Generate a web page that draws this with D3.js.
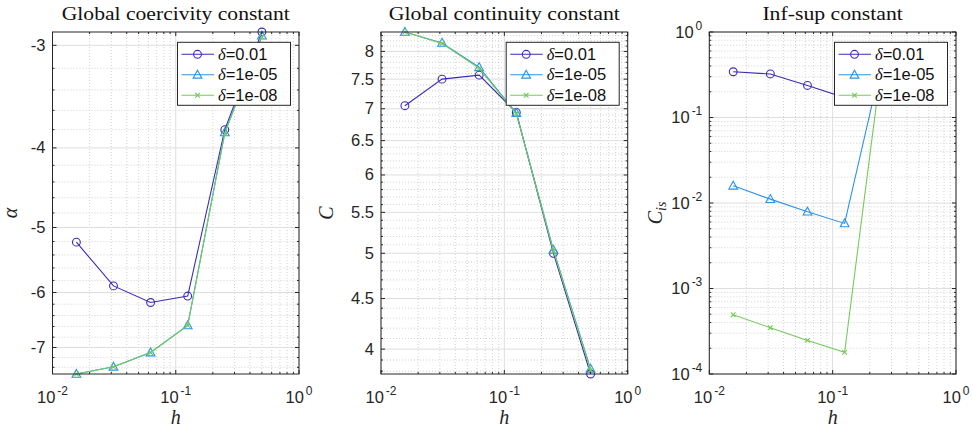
<!DOCTYPE html>
<html><head><meta charset="utf-8">
<script src="https://cdn.jsdelivr.net/npm/d3@7"></script>
<style>
html,body{margin:0;padding:0;background:#fff;}
svg text{font-family:"Liberation Sans",Arial,sans-serif;}
</style></head>
<body>
<svg id="chart" width="973" height="431"></svg>
<script>
// ---------- data ----------
const h = [0.015625, 0.03125, 0.0625, 0.125, 0.25, 0.5];
const seriesNames = ["0.01", "1e-05", "1e-08"];
const alphaD1 = [-5.21, -5.89, -6.17, -6.06, -3.80, -2.89];
const alphaD2 = [-7.54, -7.39, -7.10, -6.58, -3.83, -2.92];
const alphaD3 = [-7.54, -7.39, -7.10, -6.58, -3.84, -2.93];
const contD1 = [7.05, 7.50, 7.57, 6.94, 5.00, 3.775];
const contD2 = [8.37, 8.16, 7.71, 6.93, 5.04, 3.82];
const contD3 = [8.37, 8.15, 7.69, 6.92, 5.03, 3.81];
const cisD1 = [0.343, 0.323, 0.237, 0.171, 0.44, 0.48];
const cisD2 = [0.0159, 0.0111, 0.0079, 0.00577, 0.44, 0.48];
const cisD3 = [0.000494, 0.000348, 0.000247, 0.000179, 0.44, 0.48];
const xTicks = [0.01, 0.1, 1];
const xTickExp = ["-2", "-1", "0"];
const alphaTicks = [-3, -4, -5, -6, -7];
const contTicks = [4, 4.5, 5, 5.5, 6, 6.5, 7, 7.5, 8];
const cisTicks = [1e-4, 1e-3, 1e-2, 1e-1, 1];
const cisTickExp = ["-4", "-3", "-2", "-1", "0"];
const titles = ["Global coercivity constant", "Global continuity constant", "Inf-sup constant"];

// ---------- style ----------
const colors = ["#3b2db3", "#2b93e6", "#74cb5a"];
const markers = ["circle", "triangle", "x"];
const axisColor = "#262626";
const serif = "'Liberation Serif','Times New Roman',serif";
const topY = 32, bottomY = 374;
const panels = [
  {left: 52.5, right: 299, title: titles[0], titleW: 228, series: [alphaD1, alphaD2, alphaD3], ticks: alphaTicks, minorStep: 0.2, ylabel: "alpha"},
  {left: 381, right: 627.7, title: titles[1], titleW: 231, series: [contD1, contD2, contD3], ticks: contTicks, minorStep: 0.1, ylabel: "C"},
  {left: 709.3, right: 956, title: titles[2], titleW: 140.5, series: [cisD1, cisD2, cisD3], ticks: cisTicks, minorStep: null, ylabel: "Cis", domain: [1e-4, 1]}
];

const svg = d3.select("#chart");

function markerPath(type) {
  if (type === "triangle") {
    const s = 4.6;
    return `M0,${-s}L${s*0.95},${s*0.72}L${-s*0.95},${s*0.72}Z`;
  }
  if (type === "x") {
    const s = 2.3;
    return `M${-s},${-s}L${s},${s}M${-s},${s}L${s},${-s}`;
  }
  return null;
}
function drawMarker(g, type, color) {
  if (type === "circle") {
    g.append("circle").attr("r", 3.9).attr("fill", "none").attr("stroke", color).attr("stroke-width", 1.1);
  } else {
    g.append("path").attr("d", markerPath(type)).attr("fill", "none").attr("stroke", color).attr("stroke-width", 1.1);
  }
}

panels.forEach((p, pi) => {
  const g = svg.append("g");
  const x = d3.scaleLog().domain([0.01, 1]).range([p.left, p.right]);
  const all = p.series.flat();
  let dom = p.domain;
  if (!dom) {
    const ext = d3.extent(all);
    dom = ext[0] < 0 ? [ext[1], ext[0]] : [ext[0], ext[1]];
  }
  const y = d3.scaleLog().domain(dom).range(dom[0] < 0 ? [topY, bottomY] : [bottomY, topY]);

  // minor ticks
  const xMinor = [];
  [0.01, 0.1].forEach(d => { for (let k = 2; k <= 9; k++) xMinor.push(d * k); });
  let yMinor = [];
  if (p.minorStep) {
    const lo = Math.min(Math.abs(dom[0]), Math.abs(dom[1])), hi = Math.max(Math.abs(dom[0]), Math.abs(dom[1]));
    const sign = dom[0] < 0 ? -1 : 1;
    const major = p.ticks.map(Math.abs);
    for (let v = Math.ceil(lo / p.minorStep - 1e-9) * p.minorStep; v <= hi + 1e-9; v += p.minorStep) {
      const vv = Math.round(v * 100) / 100;
      if (!major.some(m => Math.abs(m - vv) < 1e-6)) yMinor.push(sign * vv);
    }
  } else {
    [1e-4, 1e-3, 1e-2, 1e-1].forEach(d => { for (let k = 2; k <= 9; k++) yMinor.push(d * k); });
  }

  // grid minor
  const grid = g.append("g");
  grid.selectAll(".mxg").data(xMinor).join("line")
    .attr("x1", d => x(d)).attr("x2", d => x(d)).attr("y1", topY).attr("y2", bottomY)
    .attr("stroke", "#c8c8c8").attr("stroke-width", 0.8).attr("stroke-dasharray", "1,2");
  grid.selectAll(".myg").data(yMinor).join("line")
    .attr("y1", d => y(d)).attr("y2", d => y(d)).attr("x1", p.left).attr("x2", p.right)
    .attr("stroke", "#c8c8c8").attr("stroke-width", 0.8).attr("stroke-dasharray", "1,2");
  // grid major
  grid.selectAll(".Mxg").data(xTicks).join("line")
    .attr("x1", d => x(d)).attr("x2", d => x(d)).attr("y1", topY).attr("y2", bottomY)
    .attr("stroke", "#dedede").attr("stroke-width", 1);
  grid.selectAll(".Myg").data(p.ticks).join("line")
    .attr("y1", d => y(d)).attr("y2", d => y(d)).attr("x1", p.left).attr("x2", p.right)
    .attr("stroke", "#dedede").attr("stroke-width", 1);

  // series
  const clipId = "clip" + pi;
  svg.append("clipPath").attr("id", clipId).append("rect")
    .attr("x", p.left - 6).attr("y", topY - 6).attr("width", p.right - p.left + 12).attr("height", bottomY - topY + 12);
  const sg = g.append("g").attr("clip-path", `url(#${clipId})`);
  const line = d3.line().x((d, i) => x(h[i])).y(d => y(d));
  p.series.forEach((s, si) => {
    sg.append("path").datum(s).attr("d", line).attr("fill", "none")
      .attr("stroke", colors[si]).attr("stroke-width", 1.1);
    s.forEach((v, i) => {
      const mg = sg.append("g").attr("transform", `translate(${x(h[i])},${y(v)})`);
      drawMarker(mg, markers[si], colors[si]);
    });
  });

  // axes box
  g.append("rect").attr("x", p.left).attr("y", topY).attr("width", p.right - p.left).attr("height", bottomY - topY)
    .attr("fill", "none").attr("stroke", axisColor).attr("stroke-width", 1);

  // ticks
  const tk = g.append("g").attr("stroke", axisColor).attr("stroke-width", 1);
  const majL = 4, minL = 2;
  xTicks.forEach(d => {
    tk.append("line").attr("x1", x(d)).attr("x2", x(d)).attr("y1", bottomY).attr("y2", bottomY - majL);
    tk.append("line").attr("x1", x(d)).attr("x2", x(d)).attr("y1", topY).attr("y2", topY + majL);
  });
  xMinor.forEach(d => {
    tk.append("line").attr("x1", x(d)).attr("x2", x(d)).attr("y1", bottomY).attr("y2", bottomY - minL);
    tk.append("line").attr("x1", x(d)).attr("x2", x(d)).attr("y1", topY).attr("y2", topY + minL);
  });
  p.ticks.forEach(d => {
    tk.append("line").attr("y1", y(d)).attr("y2", y(d)).attr("x1", p.left).attr("x2", p.left + majL);
    tk.append("line").attr("y1", y(d)).attr("y2", y(d)).attr("x1", p.right).attr("x2", p.right - majL);
  });
  yMinor.forEach(d => {
    tk.append("line").attr("y1", y(d)).attr("y2", y(d)).attr("x1", p.left).attr("x2", p.left + minL);
    tk.append("line").attr("y1", y(d)).attr("y2", y(d)).attr("x1", p.right).attr("x2", p.right - minL);
  });

  // x tick labels
  xTicks.forEach((d, i) => {
    const t = g.append("text").attr("x", x(d)).attr("y", 403).attr("text-anchor", "middle")
      .attr("font-size", 16.5).attr("fill", axisColor);
    t.append("tspan").text("10");
    t.append("tspan").attr("dy", -8).attr("dx", 2).attr("font-size", 12).text(xTickExp[i]);
  });
  // y tick labels
  p.ticks.forEach((d, i) => {
    const t = g.append("text").attr("x", p.left - 7).attr("y", y(d) + 5.5).attr("text-anchor", "end")
      .attr("font-size", 16.5).attr("fill", axisColor);
    if (p.minorStep) {
      t.text(String(d));
    } else {
      t.append("tspan").text("10");
      t.append("tspan").attr("dy", -8).attr("dx", 2).attr("font-size", 12).text(cisTickExp[i]);
    }
  });

  // title
  g.append("text").attr("x", (p.left + p.right) / 2).attr("y", 20).attr("text-anchor", "middle")
    .style("font-family", serif).attr("font-size", 19).attr("fill", "#111")
    .attr("textLength", p.titleW).attr("lengthAdjust", "spacingAndGlyphs").text(p.title);
  // x label
  g.append("text").attr("x", (p.left + p.right) / 2).attr("y", 424).attr("text-anchor", "middle")
    .style("font-family", serif).attr("font-style", "italic").attr("font-size", 20).attr("fill", "#262626").text("h");
  // y label
  const ylx = pi === 0 ? 17 : (pi === 1 ? 333 : 662);
  const yl = g.append("text").attr("transform", `translate(${ylx},${(topY + bottomY) / 2 + 10}) rotate(-90)`)
    .attr("text-anchor", "middle").style("font-family", serif).attr("font-style", "italic")
    .attr("font-size", 20).attr("fill", "#262626");
  if (p.ylabel === "alpha") yl.text("α");
  else if (p.ylabel === "C") yl.text("C");
  else { yl.append("tspan").text("C"); yl.append("tspan").attr("dy", 4).attr("font-size", 14).text("is"); }

  // legend
  const lw = 113, lh = 63;
  const lx = p.right - 121.5, ly = 42.3;
  const lg = g.append("g").attr("transform", `translate(${lx},${ly})`);
  lg.append("rect").attr("width", lw).attr("height", lh).attr("fill", "#fff").attr("stroke", axisColor).attr("stroke-width", 1);
  seriesNames.forEach((nm, si) => {
    const cy = 12 + si * 20.5;
    lg.append("line").attr("x1", 4).attr("x2", 36.5).attr("y1", cy).attr("y2", cy).attr("stroke", colors[si]).attr("stroke-width", 1.1);
    const mg = lg.append("g").attr("transform", `translate(20,${cy})`);
    drawMarker(mg, markers[si], colors[si]);
    const t = lg.append("text").attr("x", 40.5).attr("y", cy + 5.5).attr("font-size", 16.5).attr("fill", "#111");
    t.append("tspan").style("font-family", serif).attr("font-style", "italic").text("δ");
    t.append("tspan").text("=" + nm);
  });
});
</script>
</body></html>
